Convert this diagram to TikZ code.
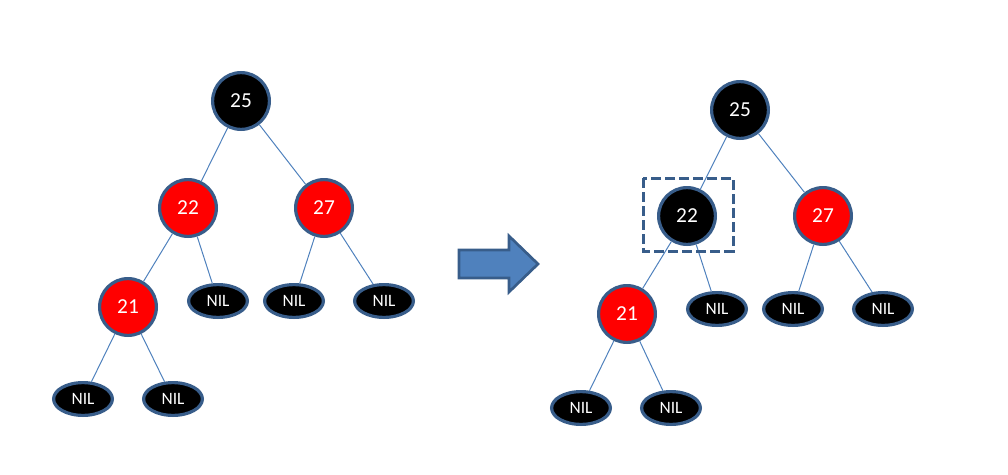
\documentclass[tikz,border=0pt]{standalone}
\usepackage{fontspec}
\setmainfont{Carlito}
\usepackage{tikz}
\usetikzlibrary{shapes.geometric}
\definecolor{rbborder}{HTML}{385D8A}
\definecolor{rbedge}{HTML}{4F81BD}
\definecolor{rbred}{HTML}{FF0000}
\tikzset{
  treenode/.style = {align=center, inner sep=0pt, text centered,
    white, draw=rbborder, line width=2.4pt},
  rbn_n/.style = {treenode, circle, fill=black, minimum size=42.6pt,
    font=\fontsize{16}{18}\selectfont},% noeud noir
  rbn_r/.style = {treenode, circle, fill=rbred, minimum size=42.6pt,
    font=\fontsize{16}{18}\selectfont},% noeud rouge
  rbn_x/.style = {treenode, ellipse, fill=black, minimum width=44.1pt,
    minimum height=24.6pt, font=\fontsize{13}{15}\selectfont},% nil
  rbedge/.style = {draw=rbedge, line width=0.75pt}
}
\begin{document}
\begin{tikzpicture}[x=0.75pt,y=-0.75pt]
\useasboundingbox (0,0) rectangle (1008,475);

% arbre avant
\node [rbn_n] (a25) at (241,101) {25};
\node [rbn_r] (a22) at (188,208) {22};
\node [rbn_r] (a27) at (324,208) {27};
\node [rbn_r] (a21) at (128,307) {21};
\node [rbn_x] (a22r) at (218,301) {NIL};
\node [rbn_x] (a27l) at (294,301) {NIL};
\node [rbn_x] (a27r) at (384,301) {NIL};
\node [rbn_x] (a21l) at (83,399) {NIL};
\node [rbn_x] (a21r) at (173,399) {NIL};

\draw[rbedge] (a25) -- (a22);
\draw[rbedge] (a25) -- (a27);
\draw[rbedge] (a22) -- (a21);
\draw[rbedge] (a22) -- (a22r);
\draw[rbedge] (a27) -- (a27l);
\draw[rbedge] (a27) -- (a27r);
\draw[rbedge] (a21) -- (a21l);
\draw[rbedge] (a21) -- (a21r);

% fleche
\draw[draw=rbborder, fill=rbedge, line width=2pt, line join=miter]
  (459,250) -- (509,250) -- (509,236) -- (538,264) -- (509,292)
  -- (509,278) -- (459,278) -- cycle;

% arbre apres
\node [rbn_n] (b25) at (740,110) {25};
\node [rbn_n] (b22) at (687,216) {22};
\node [rbn_r] (b27) at (823,216) {27};
\node [rbn_r] (b21) at (627,314) {21};
\node [rbn_x] (b22r) at (717,309) {NIL};
\node [rbn_x] (b27l) at (793,309) {NIL};
\node [rbn_x] (b27r) at (883,309) {NIL};
\node [rbn_x] (b21l) at (581,408) {NIL};
\node [rbn_x] (b21r) at (671,408) {NIL};

\draw[rbedge] (b25) -- (b22);
\draw[rbedge] (b25) -- (b27);
\draw[rbedge] (b22) -- (b21);
\draw[rbedge] (b22) -- (b22r);
\draw[rbedge] (b27) -- (b27l);
\draw[rbedge] (b27) -- (b27r);
\draw[rbedge] (b21) -- (b21l);
\draw[rbedge] (b21) -- (b21r);

% noeud recolorie
\draw[draw=rbborder, line width=2.25pt, dash pattern=on 7.5pt off 3pt]
  (643,178) rectangle (733,251);
\end{tikzpicture}
\end{document}
